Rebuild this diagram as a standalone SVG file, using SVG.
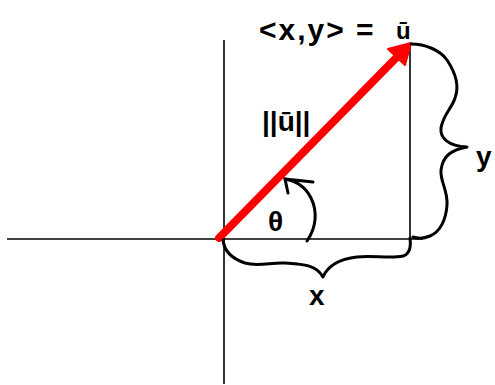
<svg xmlns="http://www.w3.org/2000/svg" width="495" height="385" viewBox="0 0 495 385">
<style>
.axis{stroke:#000;stroke-width:1.6;fill:none}
.ink{stroke:#000;stroke-width:3;fill:none;stroke-linecap:round;stroke-linejoin:round}
.lbl{font-family:"Liberation Sans",sans-serif;font-weight:bold;fill:#000}
</style>
<rect width="495" height="385" fill="#fff"/>
<g id="axes">
<line class="axis" x1="7" y1="239" x2="423" y2="239"/>
<line class="axis" x1="224" y1="40" x2="224" y2="384"/>
<line class="axis" x1="410" y1="44" x2="410" y2="239"/>
</g>
<g id="vector">
<line x1="219" y1="238" x2="396" y2="58" stroke="#ff0000" stroke-width="8" stroke-linecap="round"/>
<polygon points="411,43 388,49 405,65" fill="#ff0000" stroke="#ff0000" stroke-width="2" stroke-linejoin="round"/>
</g>
<g id="brace-y">
<path class="ink" d="M411,44 C425,44 440,50 447,60 C455,72 460,85 455,98 C452,108 443,115 441,128 C440,138 448,146 467,147 C452,150 443,155 441,170 C440,182 448,190 447,205 C446,220 440,232 430,236 C423,239 416,238 413,237"/>
</g>
<g id="brace-x">
<path class="ink" d="M223,240 C224,250 230,258 245,263 C258,267 272,262 285,263 C300,264 316,264 323,277 C328,265 340,259 357,257 C372,255 390,259 403,256 C410,254 411,246 410,238"/>
</g>
<g id="angle">
<path class="ink" d="M307,241 C316,228 318,212 311,198 C306,188 297,181 285,179"/>
<path class="ink" d="M285,179 L313,182 M285,179 L288,193"/>
</g>
<g id="labels">
<text class="lbl" x="259" y="40" font-size="30" letter-spacing="2">&lt;x,y&gt; =</text>
<text class="lbl" x="396" y="39" font-size="24">ū</text>
<text class="lbl" x="262" y="131" font-size="28">||ū||</text>
<text class="lbl" x="268" y="231" font-size="28">θ</text>
<text class="lbl" x="309" y="305" font-size="28">x</text>
<text class="lbl" x="476" y="166" font-size="28">y</text>
</g>
</svg>
